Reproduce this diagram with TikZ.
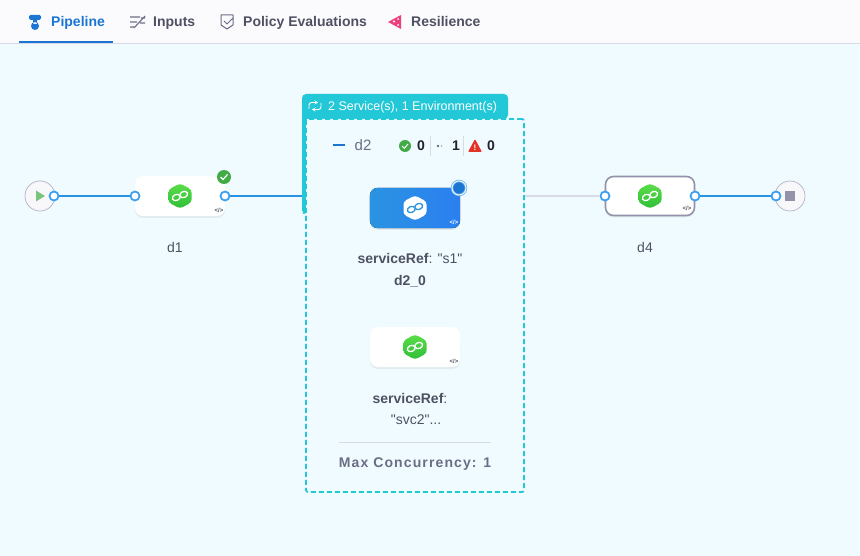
\documentclass[tikz,border=0pt]{standalone}
\usepackage{fontspec}
\setmainfont{Liberation Sans}
\usepackage{xcolor}
\definecolor{pagecolour}{HTML}{EFFBFF}
\definecolor{barcolour}{HTML}{FBFBFD}
\definecolor{linecolour}{HTML}{D9DAE5}
\definecolor{deepblue}{HTML}{1B76D3}
\definecolor{wireblue}{HTML}{2A93E2}
\definecolor{tabblue}{HTML}{2B7FF0}
\definecolor{portblue}{HTML}{3DA0EE}
\definecolor{tealish}{HTML}{22C8D8}
\definecolor{deepgray}{HTML}{4F5162}
\definecolor{midgray}{HTML}{6B6D85}
\definecolor{edgegray}{HTML}{9293AB}
\definecolor{inkgray}{HTML}{22222A}
\definecolor{okgreen}{HTML}{42AB45}
\definecolor{hexlight}{HTML}{5BDD4A}
\definecolor{hexdark}{HTML}{30BE38}
\definecolor{warnred}{HTML}{E43326}
\definecolor{pinkish}{HTML}{EE3F7A}
\usepackage{tikz}
\usetikzlibrary{arrows.meta, calc, positioning, shadows, shapes.geometric}

\begin{document}
\begin{tikzpicture}[x=1pt, y=-1pt,
  stage/.style={draw=none, fill=white, rounded corners=8pt, minimum width=90pt, minimum height=40pt, inner sep=0pt, drop shadow={opacity=0.12, shadow xshift=0pt, shadow yshift=-2pt}},
  port/.style={circle, draw=portblue, fill=white, line width=1.8pt, minimum size=9pt, inner sep=0pt},
  endcap/.style={circle, draw=edgegray!70, fill=barcolour!90!linecolour, line width=0.7pt, minimum size=30pt, inner sep=0pt},
  wire/.style={wireblue, line width=2pt},
  idle/.style={linecolour, line width=2pt},
  tabtext/.style={font=\fontsize{14}{16}\selectfont\bfseries, text=deepgray, inner sep=0pt, anchor=base west},
  label/.style={font=\fontsize{14}{16}\selectfont, text=deepgray, inner sep=0pt, anchor=base},
  count/.style={font=\fontsize{14}{16}\selectfont\bfseries, text=inkgray, inner sep=0pt, anchor=base},
  codemark/.style={font=\fontsize{6}{6}\selectfont\bfseries, text=deepgray, inner sep=0pt},
  greenfill/.style={top color=hexlight, bottom color=hexdark},
  whitefill/.style={fill=white},
  hexicon/.pic={
    \path[#1, rounded corners=3pt] (0,-12.5) -- (11.5,-6.5) -- (11.5,6.5) -- (0,12.5) -- (-11.5,6.5) -- (-11.5,-6.5) -- cycle;
  },
  ringicon/.pic={
    \draw[#1, line width=1.3pt, rotate=22] (-4,0) circle[x radius=4, y radius=3] (4,0) circle[x radius=4, y radius=3];
  }
]
\useasboundingbox (0,0) rectangle (860,556);
\fill[pagecolour] (0,0) rectangle (860,556);
\fill[barcolour] (0,0) rectangle (860,43);
\draw[linecolour, line width=0.8pt] (0,43.5) -- (860,43.5);
\fill[deepblue] (19,41) rectangle (113,43.5);

% header tabs
\fill[deepblue, rounded corners=1.5pt] (29,15) rectangle (41,20);
\fill[deepblue] (33,20) rectangle (37,24) (35,26) circle (4);
\node[tabtext, text=deepblue] (tabpipe) at (51,27) {Pipeline};
\draw[midgray, line width=1.1pt] (130,17) -- (140,17) (130,22) -- (137,22) (130,27) -- (134,27) (134,28) -- (145,16) (141,18) -- (145,18) (140,23) -- (145,23);
\node[tabtext] (tabinputs) at (153,27) {Inputs};
\draw[midgray, line width=1pt, line join=round] (221,15) -- (233,15) -- (233,25) -- (227,29) -- (221,25) -- cycle (224,21) -- (227,24) -- (233,18);
\node[tabtext] (tabpolicy) at (243,27) {Policy Evaluations};
\fill[pinkish] (388,22) -- (401,15) -- (401,29) -- cycle;
\fill[white] (394,21.5) circle (1.2) (398,19) circle (1) (398,25) circle (1);
\node[tabtext] (tabres) at (411,27) {Resilience};

% loop tab and its box
\fill[tealish, rounded corners=4pt] (302,214) -- (302,94) -- (508,94) -- (508,119) -- (306,119) -- (306,214) -- cycle;
\node[draw=tealish, fill=pagecolour, line width=1.8pt, dash pattern=on 5pt off 3pt, rounded corners=2pt, minimum width=218pt, minimum height=373pt, inner sep=0pt] (loopbox) at (415,305.5) {};
\draw[white, line width=0.9pt, rounded corners=2.5pt, -{Stealth[length=3.5pt, width=4pt]}] (309,109) -- (309,102.5) -- (318,102.5);
\draw[white, line width=0.9pt, rounded corners=2.5pt, -{Stealth[length=3.5pt, width=4pt]}] (321,103) -- (321,109.5) -- (312,109.5);
\node[font=\fontsize{12.5}{14}\selectfont, text=white, anchor=base west, inner sep=0pt] (looptitle) at (328,110.5) {2 Service(s), 1 Environment(s)};
\coordinate (loopin) at (302,196);
\coordinate (loopout) at (525,196);

% status row
\fill[deepblue] (333,144) rectangle (345,146);
\node[label, text=midgray, font=\fontsize{15}{17}\selectfont] (d2) at (363,151) {d2};
\node[circle, fill=okgreen, minimum size=12pt, inner sep=0pt] (okdot) at (405,146) {};
\draw[white, line width=1pt] (402,146) -- (404.3,148.3) -- (408,144);
\node[count] (okcount) at (421,151) {0};
\draw[linecolour, line width=0.8pt] (430.5,136) -- (430.5,156);
\fill[midgray] (438,146) circle (1.4) (441.5,146) circle (0.7);
\node[count] (runcount) at (456,151) {1};
\draw[linecolour, line width=0.8pt] (463.5,136) -- (463.5,156);
\fill[warnred, rounded corners=1pt] (475,139) -- (482,152) -- (468,152) -- cycle;
\node[font=\fontsize{8}{8}\selectfont\bfseries, text=white, inner sep=0pt] (warnmark) at (475,147.5) {!};
\node[count] (failcount) at (491,151) {0};

% stages
\node[stage] (d1box) at (180,196) {};
\node[stage] (s1box) at (415,208) {};
\fill[left color=wireblue, right color=tabblue, rounded corners=8pt] (s1box.north west) rectangle (s1box.south east);
\node[stage] (s2box) at (415,347) {};
\node[stage, draw=edgegray, line width=1.6pt, minimum width=89pt, minimum height=39pt] (d4box) at (650,196) {};

\pic at (180,196) {hexicon=greenfill};
\pic at (180,196) {ringicon=white};
\pic at (415,208) {hexicon=whitefill};
\pic at (415,208) {ringicon=wireblue};
\pic at (415,347) {hexicon=greenfill};
\pic at (415,347) {ringicon=white};
\pic at (650,196) {hexicon=greenfill};
\pic at (650,196) {ringicon=white};

\node[codemark] (d1code) at (219,210) {</>};
\node[codemark, text=white] (s1code) at (454,222) {</>};
\node[codemark] (s2code) at (454,361) {</>};
\node[codemark] (d4code) at (687,208) {</>};

\node[circle, fill=okgreen, minimum size=14pt, inner sep=0pt] (d1ok) at (224,177) {};
\draw[white, line width=1.2pt] (220.5,177) -- (223,179.5) -- (227.5,174.5);
\node[circle, draw=wireblue!70, fill=deepblue, line width=0.8pt, minimum size=14pt, inner sep=0pt, double=white, double distance=0.8pt] (s1run) at (459,188) {};

\node[label] (d1label) at (175,252.5) {d1};
\node[label] (d4label) at (645,252.5) {d4};
\node[label] (s1label) at (410,264) {\textbf{serviceRef}: \textquotedbl s1\textquotedbl};
\node[label, font=\fontsize{14}{16}\selectfont\bfseries] (s1name) at (410,286) {d2\_0};
\node[label] (s2label) at (410,403) {\textbf{serviceRef}:};
\node[label] (s2value) at (416,424) {\textquotedbl svc2\textquotedbl...};
\draw[linecolour, line width=0.8pt] (339,442.5) -- (491,442.5);
\node[label, text=midgray, font=\fontsize{14}{16}\selectfont\bfseries\addfontfeature{LetterSpace=8}] (maxlabel) at (415,467) {Max Concurrency: 1};

% start and stop
\node[endcap] (start) at (40,196) {};
\fill[okgreen!70!white] (36,190.5) -- (45,196) -- (36,201.5) -- cycle;
\node[endcap] (stop) at (790,196) {};
\fill[edgegray] (785,191) rectangle (795,201);

% ports
\node[port] (startout) at (54,196) {};
\node[port] (d1in) at (135,196) {};
\node[port] (d1out) at (225,196) {};
\node[port] (d4in) at (605,196) {};
\node[port] (d4out) at (695,196) {};
\node[port] (stopin) at (776,196) {};

\draw[wire] (startout) -- (d1in);
\draw[wire] (d1out) -- (loopin);
\draw[idle] (loopout) -- (d4in);
\draw[wire] (d4out) -- (stopin);
\end{tikzpicture}
\end{document}
